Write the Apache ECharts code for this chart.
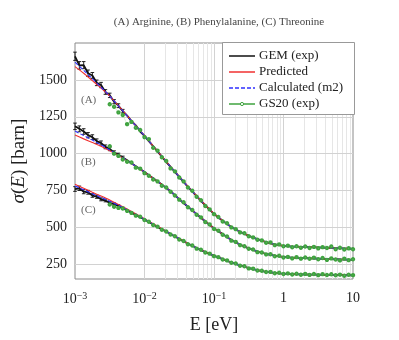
<!DOCTYPE html>
<html><head><meta charset="utf-8">
<script src="https://cdn.jsdelivr.net/npm/echarts@6/dist/echarts.min.js"></script>
<style>html,body{margin:0;padding:0;background:#fff}#c{width:399px;height:340px}</style>
</head><body><div id="c"></div>
<script>
// ---------- data ----------
const energyFine = [0.001,0.001155,0.001334,0.00154,0.001778,0.002054,0.002371,0.002738,0.003162,0.003652,0.004217,0.00487,0.005623,0.006494,0.007499,0.00866,
0.01,0.01155,0.01334,0.0154,0.01778,0.02054,0.02371,0.02738,0.03162,0.03652,0.04217,0.0487,0.05623,0.06494,0.07499,0.0866,
0.1,0.1155,0.1334,0.154,0.1778,0.2054,0.2371,0.2738,0.3162,0.3652,0.4217,0.487,0.5623,0.6494,0.7499,0.866,
1,1.155,1.334,1.54,1.778,2.054,2.371,2.738,3.162,3.652,4.217,4.87,5.623,6.494,7.499,8.66,10];
const energyCoarse = [0.001,0.001334,0.001778,0.002371,0.003162,0.004217,0.005623,0.007499,
0.01,0.01334,0.01778,0.02371,0.03162,0.04217,0.05623,0.07499,
0.1,0.1334,0.1778,0.2371,0.3162,0.4217,0.5623,0.7499,
1,1.334,1.778,2.371,3.162,4.217,5.623,7.499,10];
const energyGS20 = [0.003162,0.003652,0.004217,0.00487,0.005623,0.006494,0.007499,0.00866,
0.01,0.01155,0.01334,0.0154,0.01778,0.02054,0.02371,0.02738,0.03162,0.03652,0.04217,0.0487,0.05623,0.06494,0.07499,0.0866,
0.1,0.1155,0.1334,0.154,0.1778,0.2054,0.2371,0.2738,0.3162,0.3652,0.4217,0.487,0.5623,0.6494,0.7499,0.866,
1,1.155,1.334,1.54,1.778,2.054,2.371,2.738,3.162,3.652,4.217,4.87,5.623,6.494,7.499,8.66,10];

// GEM (exp)
const gemA = [1660,1598,1600,1545,1530,1480,1465,1418,1395,1352,1325,1288,1258,1220,1192,1150,
1120,1085,1050,1015,980,944,910,876,842,808,775,744,712,680,650,620,
592,567,545,523,503,486,470,456,443,431,420,410,400,392,385,379,
375,372,370,369,368,367,366,365,364,363,362,361,360,358,357,356,355];
const gemB = [1185,1168,1150,1125,1112,1085,1072,1046,1032,1008,993,974,955,935,915,895,
875,854,833,811,790,767,745,718,690,665,640,615,590,565,540,517,
494,473,455,434,414,398,383,370,358,347,336,328,320,314,308,304,
300,297,295,293,292,291,290,289,288,287,286,285,284,283,282,281,280];
const gemC = [760,765,742,738,716,708,690,682,666,658,645,630,615,600,585,569,
553,537,520,503,487,471,455,438,422,406,390,375,360,346,333,320,
308,296,285,273,262,252,242,233,224,217,210,204,199,195,191,188,
186,184,183,182,181,180.5,180,179.5,179,178.5,178,177.5,177,176.5,176,175.5,175];
// GEM (exp) uncertainties for the first low-energy points
const gemErrA = [28,26,24,22,20,19,18,16,15,14,13,12];
const gemErrB = [22,20,19,18,16,15,14,13,12,11,10,9];
const gemErrC = [16,15,14,13,12,11,10,9,9,8,8,7];

// Predicted
const predA = [1590,1545,1495,1445,1390,1325,1258,1190,1122,1052,982,912,845,778,714,652,593,546,504,470,443,420,400,385,375,370,368,366,364,362,360,357,355];
const predB = [1126,1100,1075,1050,1020,988,952,913,874,833,790,746,692,642,592,542,495,454,414,383,358,336,320,308,300,295,292,290,288,286,284,282,280];
const predC = [792,765,738,712,685,655,624,592,558,524,490,457,424,391,361,334,309,285,262,242,224,210,199,191,186,183,181,180,179,178,177,176,175];

// Calculated (m2)
const calcA = [1620,1565,1508,1450,1390,1323,1256,1189,1121,1051,981,911,843,776,713,651,592,545,503,470,443,420,400,385,375,370,368,366,364,362,360,357,355];
const calcB = [1153,1122,1092,1060,1025,990,953,914,875,833,790,745,691,641,591,541,494,455,414,383,358,336,320,308,300,295,292,290,288,286,284,282,280];
const calcC = [780,755,728,703,677,650,620,589,556,522,489,456,423,390,360,333,308,285,262,242,224,210,199,191,186,183,181,180,179,178,177,176,175];

// GS20 (exp)
const gs20A = [1335,1318,1280,1262,1200,1215,1175,1160,1112,1098,1040,1020,975,950,900,880,838,812,770,748,708,684,645,622,590,570,540,528,500,488,466,460,440,432,416,412,396,398,380,385,372,376,365,372,362,370,360,368,358,366,360,370,352,362,350,358,352];
const gs20B = [1050,1000,985,960,945,940,905,898,868,850,825,812,782,770,742,716,688,670,636,618,586,568,536,520,490,478,450,438,410,402,380,372,355,350,332,330,317,318,304,308,296,300,290,298,288,296,287,295,284,292,280,290,282,276,288,278,284];
const gs20C = [655,640,632,628,612,598,580,572,550,538,516,505,484,472,452,440,418,408,386,377,356,348,330,322,305,298,282,276,260,255,240,236,222,220,208,206,197,198,189,192,184,188,181,186,179,185,178,184,176,183,177,182,175,180,172,179,176];

const seriesNames = ['GEM (exp)','Predicted','Calculated (m2)','GS20 (exp)'];
const curveTags = ['(A)','(B)','(C)'];
const titleText = '(A) Arginine, (B) Phenylalanine, (C) Threonine';
const yTicks = [250,500,750,1000,1250,1500];
const xMajor = [0.001,0.01,0.1,1,10];
const xTickLabels = ['10{s|−3}','10{s|−2}','10{s|−1}','1','10'];
const xMinor = [0.002,0.003,0.004,0.005,0.006,0.007,0.008,0.009,
0.02,0.03,0.04,0.05,0.06,0.07,0.08,0.09,
0.2,0.3,0.4,0.5,0.6,0.7,0.8,0.9,
2,3,4,5,6,7,8,9];

// ---------- chart ----------
const FONT = 'Liberation Serif';
const C_BLACK = '#111', C_RED = '#f03030', C_BLUE = '#2f2fff', C_GREEN = '#3fa33f';
const pair = (xs, ys) => xs.map((x, i) => [x, ys[i]]);
const chart = echarts.init(document.getElementById('c'), null, {renderer: 'canvas'});

const series = [];
series.push({
  type: 'line', name: '_grid', data: [], silent: true, z: 1, animation: false,
  markLine: {
    z: 1, silent: true, symbol: 'none', animation: false, label: {show: false},
    data: [
      ...xMinor.map(v => ({xAxis: v, lineStyle: {color: '#e6e6e6', width: 1, type: 'solid'}})),
      ...xMajor.slice(1, -1).map(v => ({xAxis: v, lineStyle: {color: '#d2d2d2', width: 1, type: 'solid'}})),
      ...yTicks.map(v => ({yAxis: v, lineStyle: {color: '#d2d2d2', width: 1, type: 'solid'}}))
    ]
  }
});
const gems = [gemA, gemB, gemC], errs = [gemErrA, gemErrB, gemErrC], preds = [predA, predB, predC], calcs = [calcA, calcB, calcC], gss = [gs20A, gs20B, gs20C];
for (let c = 0; c < 3; c++) {
  series.push({type: 'line', name: seriesNames[0], data: pair(energyFine, gems[c]), symbol: 'none', z: 3,
    lineStyle: {color: C_BLACK, width: 1.8}, itemStyle: {color: C_BLACK}, animation: false});
  series.push({
    type: 'custom', name: '_err' + c, z: 3, silent: true, animation: false,
    data: errs[c].map((e, i) => [energyFine[i], gems[c][i] - e, gems[c][i] + e]),
    renderItem: (params, api) => {
      const lo = api.coord([api.value(0), api.value(1)]);
      const hi = api.coord([api.value(0), api.value(2)]);
      const w = 1.8;
      return {type: 'group', children: [
        {type: 'line', shape: {x1: lo[0], y1: lo[1], x2: hi[0], y2: hi[1]}, style: {stroke: C_BLACK, lineWidth: 0.9}},
        {type: 'line', shape: {x1: lo[0] - w, y1: lo[1], x2: lo[0] + w, y2: lo[1]}, style: {stroke: C_BLACK, lineWidth: 0.9}},
        {type: 'line', shape: {x1: hi[0] - w, y1: hi[1], x2: hi[0] + w, y2: hi[1]}, style: {stroke: C_BLACK, lineWidth: 0.9}}
      ]};
    }
  });
  series.push({type: 'line', name: seriesNames[1], data: pair(energyCoarse, preds[c]), symbol: 'none', z: 4, smooth: 0.2,
    lineStyle: {color: C_RED, width: 1.1}, itemStyle: {color: C_RED}, animation: false});
  series.push({type: 'line', name: seriesNames[2], data: pair(energyCoarse, calcs[c]), symbol: 'none', z: 5, smooth: 0.2,
    lineStyle: {color: C_BLUE, width: 1.1, type: [4, 2]}, itemStyle: {color: C_BLUE}, animation: false});
  series.push({type: 'line', name: seriesNames[3], data: pair(energyGS20, gss[c]), symbol: 'emptyCircle', symbolSize: 2.4, z: 6,
    lineStyle: {color: C_GREEN, width: 0.5, opacity: 0.35}, itemStyle: {color: C_GREEN, borderWidth: 0.6}, animation: false});
}

// hand-drawn legend (box + 4 entries)
const legendColors = [C_BLACK, C_RED, C_BLUE, C_GREEN];
const legendDash = [null, null, [4, 2], null];
const LG = {x: 222, y: 42, w: 132, h: 72, row0: 56, rowStep: 16, lx0: 229, lx1: 255, tx: 259};
const legendGraphics = [{type: 'rect', z: 100, shape: {x: LG.x + 0.5, y: LG.y + 0.5, width: LG.w, height: LG.h},
  style: {fill: '#fff', stroke: '#999', lineWidth: 1}}];
seriesNames.forEach((n, i) => {
  const yy = LG.row0 + i * LG.rowStep;
  legendGraphics.push({type: 'line', z: 101, shape: {x1: LG.lx0, y1: yy, x2: LG.lx1, y2: yy},
    style: {stroke: legendColors[i], lineWidth: 1.5, lineDash: legendDash[i]}});
  if (i === 3) legendGraphics.push({type: 'circle', z: 102, shape: {cx: (LG.lx0 + LG.lx1) / 2, cy: yy, r: 1.6},
    style: {fill: '#fff', stroke: C_GREEN, lineWidth: 1}});
  legendGraphics.push({type: 'text', z: 101, x: LG.tx, y: yy, style: {text: n, font: '13px "Liberation Serif"', fill: '#222', verticalAlign: 'middle'}});
});

chart.setOption({
  animation: false,
  backgroundColor: '#fff',
  title: {text: titleText, left: 214, top: 12, textAlign: 'center',
    textStyle: {fontFamily: FONT, fontSize: 11, fontWeight: 'normal', color: '#444'}},
  grid: {left: 75, right: 46, top: 43, bottom: 61, show: true, borderColor: '#8a8a8a', borderWidth: 1, backgroundColor: 'transparent'},
  xAxis: {
    type: 'log', logBase: 10, min: 0.001, max: 10,
    axisLine: {show: false}, axisTick: {show: false}, splitLine: {show: false},
    axisLabel: {margin: 12, fontFamily: FONT, fontSize: 14, color: '#222',
      formatter: v => { const i = xMajor.findIndex(m => Math.abs(Math.log10(m) - Math.log10(v)) < 1e-6); return i >= 0 ? xTickLabels[i] : ''; },
      rich: {s: {fontFamily: FONT, fontSize: 10, verticalAlign: 'top', padding: [0, 0, 6, 0], color: '#222'}}},
    name: 'E [eV]', nameLocation: 'middle', nameGap: 37,
    nameTextStyle: {fontFamily: FONT, fontSize: 18, color: '#222'}
  },
  yAxis: {
    type: 'value', min: 150, max: 1750, interval: 50,
    axisLine: {show: false}, axisTick: {show: false}, splitLine: {show: false},
    axisLabel: {margin: 8, fontFamily: FONT, fontSize: 14, color: '#222',
      formatter: v => yTicks.indexOf(v) >= 0 ? String(v) : ''},
    name: '{i|σ}({i|E}) [barn]', nameLocation: 'middle', nameGap: 41, nameRotate: 90,
    nameTextStyle: {fontFamily: FONT, fontSize: 19, color: '#222',
      rich: {i: {fontFamily: FONT, fontSize: 19, fontStyle: 'italic', color: '#222'}}}
  },
  graphic: [
    {type: 'text', left: 81, top: 95, style: {text: curveTags[0], font: '11px "Liberation Serif"', fill: '#666'}},
    {type: 'text', left: 81, top: 157, style: {text: curveTags[1], font: '11px "Liberation Serif"', fill: '#666'}},
    {type: 'text', left: 81, top: 205, style: {text: curveTags[2], font: '11px "Liberation Serif"', fill: '#666'}},
    ...legendGraphics
  ],
  series: series
});
</script></body></html>
